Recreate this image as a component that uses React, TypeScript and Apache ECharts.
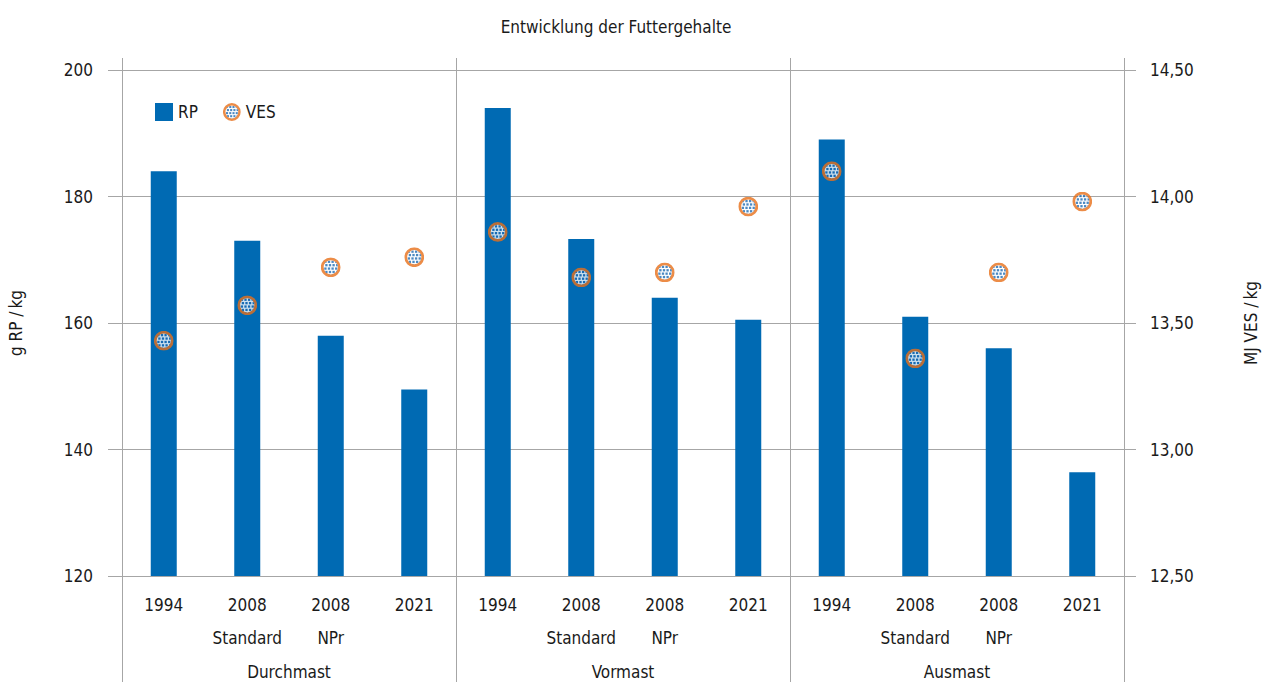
import React, { useEffect, useRef } from "react";
import * as echarts from "echarts";

const groups = ["Durchmast", "Vormast", "Ausmast"];
const periods = ["1994", "2008\nStandard", "2008\nNPr", "2021"];
const rpValues = [184, 173, 158, 149.5, 194, 173.3, 164, 160.5, 189, 161, 156, 136.4];
const vesValues = [13.43, 13.57, 13.72, 13.76, 13.86, 13.68, 13.7, 13.96, 14.1, 13.36, 13.7, 13.98];
const leftTicks = { min: 120, max: 200, interval: 20 };
const rightTicks = { min: 12.5, max: 14.5, interval: 0.5 };

const FONT = "'DejaVu Sans Condensed', 'Open Sans', sans-serif";
const FS = 17;
const GRID_COLOR = "#a6a6a6";
const TEXT_COLOR = "#1a1a1a";
const BLUE = "#006ab3";
const ORANGE = "#e8701a";

const categories: string[] = [];
groups.forEach((g) => periods.forEach((p) => categories.push(g + "|" + p)));

function markerSvg(): string {
  let dots = "";
  const rows = [4.4, 7.8, 11.2, 14.6, 18.0];
  const cols = [4.6, 8.2, 11.8, 15.4];
  rows.forEach((y, ri) => {
    cols.forEach((x) => {
      const xx = x + (ri % 2 ? 1.0 : 0);
      dots += `<rect x="${(xx - 1.1).toFixed(2)}" y="${(y - 1.1).toFixed(2)}" width="2.3" height="2.3" fill="#1f6cb4"/>`;
    });
  });
  return (
    `<svg xmlns="http://www.w3.org/2000/svg" width="20" height="20" viewBox="0 0 20 20">` +
    `<defs><clipPath id="c"><circle cx="10" cy="10" r="7.2"/></clipPath></defs>` +
    `<circle cx="10" cy="10" r="8.5" fill="#ffffff" stroke="${ORANGE}" stroke-width="2.8"/>` +
    `<g clip-path="url(#c)">${dots}</g>` +
    `</svg>`
  );
}
const MARKER = "image://data:image/svg+xml;charset=utf-8," + encodeURIComponent(markerSvg());

export default function App() {
  const ref = useRef<HTMLDivElement>(null);
  useEffect(() => {
    if (!ref.current) return;
    const chart = echarts.init(ref.current, null, { renderer: "svg" });
    chart.setOption({
      animation: false,
      textStyle: { fontFamily: FONT, color: TEXT_COLOR },
      title: {
        text: "Entwicklung der Futtergehalte",
        left: 611,
        textAlign: "center",
        top: 13,
        textStyle: { fontFamily: FONT, fontSize: FS, fontWeight: "normal", color: TEXT_COLOR },
      },
      legend: {
        left: 150,
        top: 98,
        itemWidth: 18,
        itemHeight: 18,
        itemGap: 25,
        textStyle: { fontFamily: FONT, fontSize: FS, color: TEXT_COLOR },
        data: [
          { name: "RP", icon: "rect" },
          { name: "VES", icon: MARKER },
        ],
      },
      grid: { left: 122, right: 147, top: 70, bottom: 106, outerBoundsMode: "none", containLabel: false },
      xAxis: [
        {
          type: "category",
          data: categories,
          position: "bottom",
          axisLine: { show: false },
          axisTick: { show: false },
          axisLabel: {
            interval: 0,
            margin: 12,
            fontFamily: FONT,
            fontSize: FS,
            lineHeight: 33,
            color: TEXT_COLOR,
            formatter: (v: string) => v.split("|")[1],
          },
        },
        {
          type: "category",
          data: groups,
          position: "bottom",
          axisLine: { show: false },
          axisTick: { show: true, interval: 0, length: 106, lineStyle: { color: GRID_COLOR } },
          splitLine: { show: true, interval: 0, lineStyle: { color: GRID_COLOR } },
          axisLabel: { interval: 0, margin: 87, fontFamily: FONT, fontSize: FS, color: TEXT_COLOR },
        },
        {
          type: "category",
          data: groups,
          position: "top",
          axisLine: { show: false },
          axisTick: { show: true, interval: 0, length: 12, lineStyle: { color: GRID_COLOR } },
          axisLabel: { show: false },
        },
      ],
      yAxis: [
        {
          type: "value",
          ...leftTicks,
          name: "g RP /\u2009kg",
          nameLocation: "middle",
          nameGap: 98,
          nameRotate: 90,
          nameTextStyle: { fontFamily: FONT, fontSize: FS, color: TEXT_COLOR },
          axisLine: { show: true, lineStyle: { color: GRID_COLOR } },
          axisTick: { show: true, length: 14, lineStyle: { color: GRID_COLOR } },
          splitLine: { show: true, lineStyle: { color: GRID_COLOR } },
          axisLabel: { margin: 29, fontFamily: FONT, fontSize: FS, color: TEXT_COLOR },
        },
        {
          type: "value",
          ...rightTicks,
          position: "right",
          name: "MJ VES /\u2009kg",
          nameLocation: "middle",
          nameGap: 118,
          nameRotate: 90,
          nameTextStyle: { fontFamily: FONT, fontSize: FS, color: TEXT_COLOR },
          axisLine: { show: true, lineStyle: { color: GRID_COLOR } },
          axisTick: { show: true, length: 12, lineStyle: { color: GRID_COLOR } },
          splitLine: { show: false },
          axisLabel: {
            margin: 26,
            fontFamily: FONT,
            fontSize: FS,
            color: TEXT_COLOR,
            formatter: (v: number) => v.toFixed(2).replace(".", ","),
          },
        },
      ],
      series: [
        {
          name: "RP",
          type: "bar",
          xAxisIndex: 0,
          yAxisIndex: 0,
          data: rpValues,
          barWidth: 26,
          itemStyle: { color: BLUE },
        },
        {
          name: "VES",
          type: "scatter",
          xAxisIndex: 0,
          yAxisIndex: 1,
          data: vesValues,
          symbol: MARKER,
          symbolSize: 20,
          z: 5,
        },
      ],
    });
    return () => chart.dispose();
  }, []);
  return (
    <div
      ref={ref}
      style={{ position: "fixed", left: 0, top: 0, width: 1271, height: 682, background: "#fff" }}
    />
  );
}
